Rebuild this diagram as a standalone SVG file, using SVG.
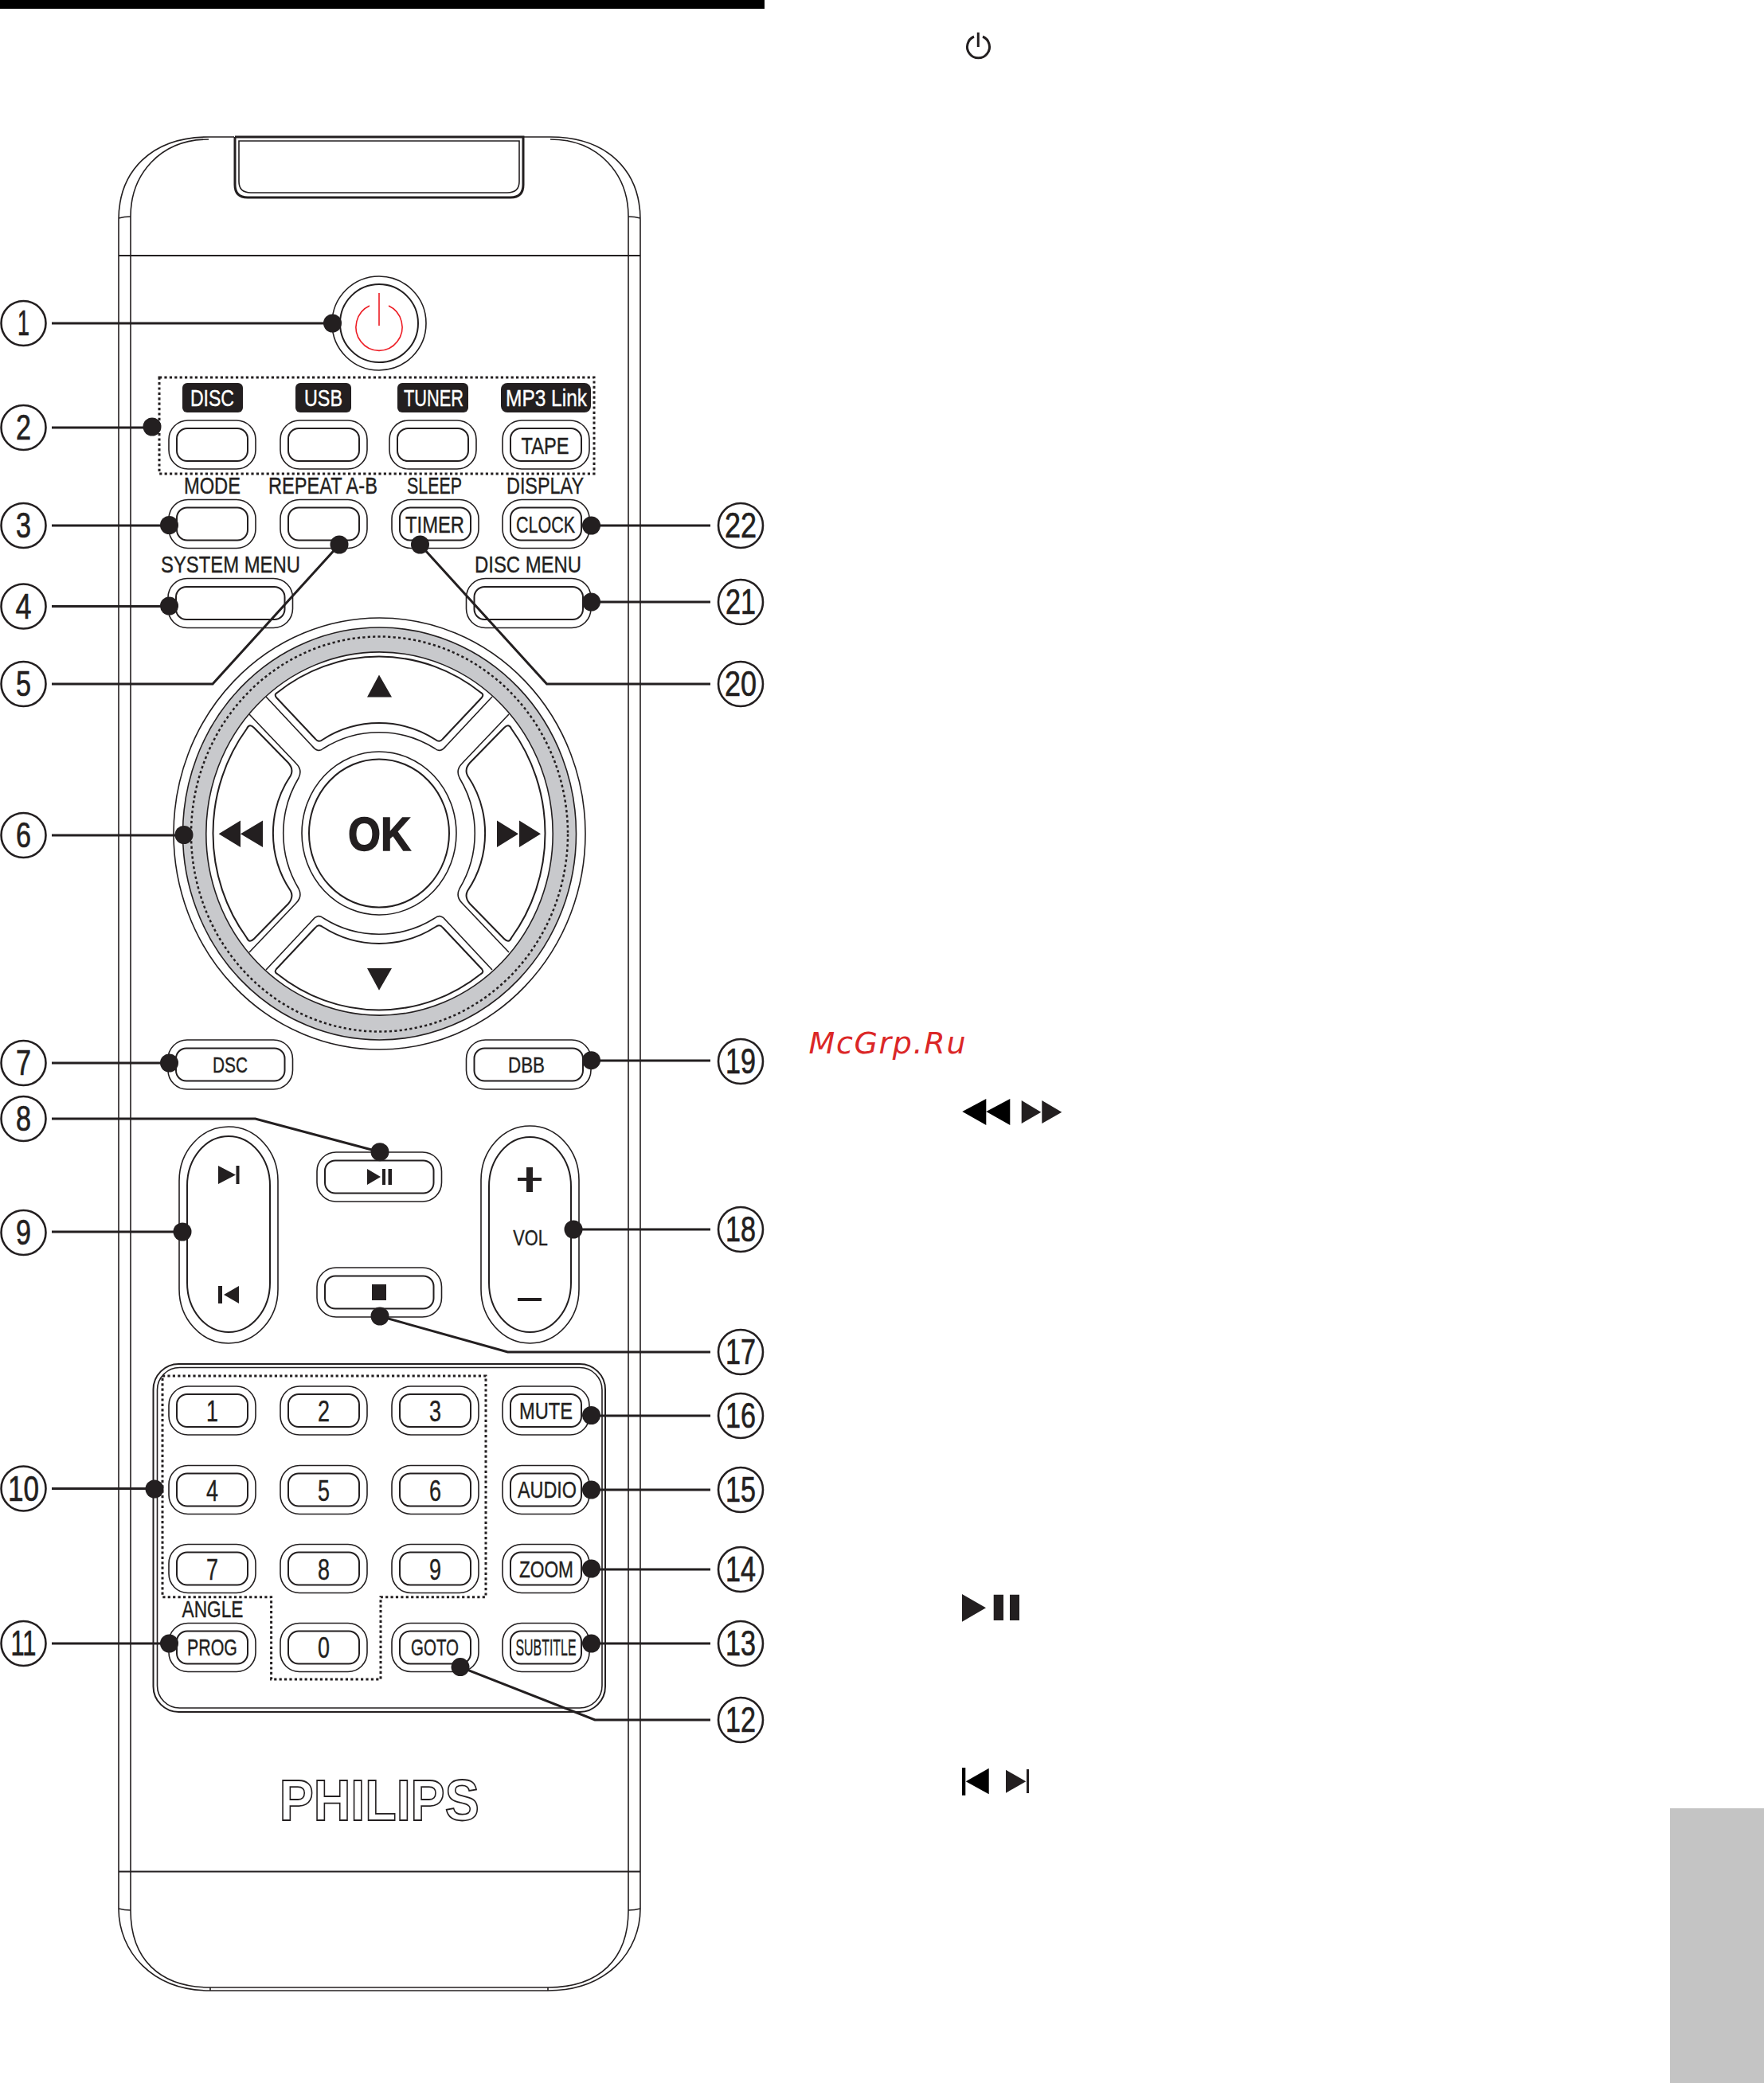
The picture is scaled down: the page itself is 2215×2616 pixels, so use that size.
<svg xmlns="http://www.w3.org/2000/svg" width="2215" height="2616" viewBox="0 0 2215 2616">
<style>
.l{fill:none;stroke:#231f20;stroke-width:2}
.lt{fill:none;stroke:#231f20;stroke-width:1.6}
.lk{fill:none;stroke:#231f20;stroke-width:3}
.dot{fill:none;stroke:#231f20;stroke-width:3;stroke-dasharray:3.2 3.2}
.f{fill:#231f20}
.k{fill:#000}
.t{font-family:"Liberation Sans",Arial,sans-serif;font-size:30px;fill:#231f20;stroke:#231f20;stroke-width:.4;text-anchor:middle}
.w{fill:#fff;stroke:#fff}
.n{font-family:"Liberation Sans",Arial,sans-serif;font-size:44px;fill:#231f20;stroke:#231f20;stroke-width:.7;text-anchor:middle}
.c{fill:#fff;stroke:#231f20;stroke-width:2.6}
.d{fill:#231f20}
.lead{fill:none;stroke:#231f20;stroke-width:3}
</style>
<defs>
<g id="btn"><rect class="lt" x="0" y="0" width="109" height="61" rx="24"/><rect class="l" x="10" y="10" width="89" height="41" rx="13"/></g>
<g id="wide"><rect class="lt" x="0" y="0" width="156.5" height="62" rx="24"/><rect class="l" x="10" y="10.500" width="136.500" height="41" rx="13"/></g>
<g id="dialUp">
<path class="lt" d="M334,875 L392,937 Q399,946 406,940 A131,131 0 0 1 546,940 Q553,946 560,937 L618,875"/>
<path class="l" d="M347,876 L396,928 Q400,933 405,929 A131,131 0 0 1 547,929 Q552,933 556,928 L605,876 Q608,872 604,870 A211,221.500 0 0 0 348,870 Q344,872 347,876 Z"/>
</g>
<g id="dialLeft">
<path class="lt" d="M313,897 L372,959 Q380,967 375,977 A135,135 0 0 0 375,1116 Q380,1126 372,1134 L313,1196"/>
<path class="l" d="M310,915 Q313,908 319,914 L362,958 Q369,966 365,974 A130,130 0 0 0 365,1119 Q369,1127 362,1135 L319,1179 Q313,1185 310,1178 A210,218 0 0 1 310,915 Z"/>
</g>
</defs>
<rect width="2215" height="2616" fill="#fff"/>
<rect id="page-bar" x="0" y="0" width="960" height="11" fill="#000"/>
<rect id="page-tab" x="2097" y="2271" width="118" height="345" fill="#c4c4c4"/>

<g id="remote-body">
<path class="lt" d="M149,2397 V276 C149,215 190,172 262,172 H294 M658,172 H691 C763,172 804,215 804,276 V2397 C804,2450 763,2500 688,2500 H264 C190,2500 149,2450 149,2397"/>
<path class="lt" d="M164,2399 V272 C164,220 200,175 262,175 M691,175 C753,175 789,220 789,272 V2399 C789,2460 753,2496 688,2496 H264 C200,2496 164,2460 164,2399"/>
<path class="lt" d="M149,274 Q156,272 164,272 M804,274 Q797,272 789,272 M149,2397 Q156,2399 164,2399 M804,2397 Q797,2399 789,2399 M264,2496 V2500 M688,2496 V2500"/>
<path class="l" d="M149,321 H804 M149,2350.500 H804"/>
<path class="lk" d="M295,172 V232 Q295,248 311,248 H641 Q657,248 657,232 V172 H295"/>
<path class="lt" d="M300,177 V228 Q300,242 315,242 H637 Q652,242 652,228 V177 Z"/>
</g>

<g id="power">
<circle class="lt" cx="476" cy="406" r="59"/>
<circle class="l" cx="476" cy="406" r="49"/>
<path fill="none" stroke="#ed1c24" stroke-width="1.6" d="M464,384 A29,29.500 0 1 0 488,384 M476,368 V409"/>
</g>

<g id="source-buttons">
<rect class="dot" x="200" y="474" width="546" height="121"/>
<rect class="f" x="229" y="481" width="76" height="37" rx="6"/>
<rect class="f" x="371" y="481" width="70" height="37" rx="6"/>
<rect class="f" x="499" y="481" width="89" height="37" rx="6"/>
<rect class="f" x="629" y="481" width="113" height="37" rx="8"/>
<text class="t w" x="266.500" y="510" textLength="55" lengthAdjust="spacingAndGlyphs">DISC</text>
<text class="t w" x="406" y="510" textLength="48" lengthAdjust="spacingAndGlyphs">USB</text>
<text class="t w" x="544.500" y="510" textLength="75" lengthAdjust="spacingAndGlyphs">TUNER</text>
<text class="t w" x="686" y="510" textLength="102" lengthAdjust="spacingAndGlyphs">MP3 Link</text>
<use href="#btn" x="212" y="528"/><use href="#btn" x="352" y="528"/><use href="#btn" x="489" y="528"/><use href="#btn" x="631" y="528"/>
<text class="t" x="684.500" y="570" textLength="60" lengthAdjust="spacingAndGlyphs">TAPE</text>
</g>

<g id="function-buttons">
<text class="t" x="266.500" y="620" textLength="71" lengthAdjust="spacingAndGlyphs">MODE</text>
<text class="t" x="405.500" y="620" textLength="137" lengthAdjust="spacingAndGlyphs">REPEAT A-B</text>
<text class="t" x="545.500" y="620" textLength="69" lengthAdjust="spacingAndGlyphs">SLEEP</text>
<text class="t" x="684.500" y="620" textLength="97" lengthAdjust="spacingAndGlyphs">DISPLAY</text>
<use href="#btn" x="212" y="627.500"/><use href="#btn" x="352" y="627.500"/><use href="#btn" x="492" y="627.500"/><use href="#btn" x="631" y="627.500"/>
<text class="t" x="546" y="669" textLength="74" lengthAdjust="spacingAndGlyphs">TIMER</text>
<text class="t" x="685" y="669" textLength="74" lengthAdjust="spacingAndGlyphs">CLOCK</text>
<text class="t" x="289.500" y="719" textLength="175" lengthAdjust="spacingAndGlyphs">SYSTEM MENU</text>
<text class="t" x="663" y="719" textLength="134" lengthAdjust="spacingAndGlyphs">DISC MENU</text>
<use href="#wide" x="211" y="726.500"/><use href="#wide" x="585.500" y="726.500"/>
</g>

<g id="dial">
<ellipse class="lt" cx="476.500" cy="1047" rx="258.500" ry="271"/>
<path d="M229.500,1047 a247,259 0 1 0 494,0 a247,259 0 1 0 -494,0 Z M258.800,1047 a217.700,228 0 1 1 435.400,0 a217.700,228 0 1 1 -435.400,0 Z" fill="#c8c9cc" fill-rule="evenodd" stroke="#231f20" stroke-width="1.600"/>
<ellipse class="dot" cx="476.500" cy="1047.500" rx="236.500" ry="248" style="stroke-width:2.500"/>
<use href="#dialUp"/>
<use href="#dialUp" transform="translate(0,2093) scale(1,-1)"/>
<use href="#dialLeft"/>
<use href="#dialLeft" transform="translate(952,0) scale(-1,1)"/>
<ellipse class="lt" cx="476" cy="1046.500" rx="97" ry="102.500"/>
<ellipse class="l" cx="476" cy="1046.500" rx="88" ry="93"/>
<text x="476.500" y="1067.500" font-family="Liberation Sans,Arial,sans-serif" font-weight="700" font-size="59px" fill="#231f20" stroke="#231f20" stroke-width="1.500" text-anchor="middle" textLength="79" lengthAdjust="spacingAndGlyphs">OK</text>
<path class="f" d="M476,847.600 L492,875.500 H461 Z M461,1216 H492 L476,1243.700 Z M274.600,1047.300 L302,1030.500 V1064 Z M302,1047.300 L330,1030.500 V1064 Z M624,1030.500 L651,1047.300 L624,1064 Z M652,1030.500 L679,1047.300 L652,1064 Z"/>
</g>

<g id="dsc"><use href="#wide" x="211" y="1306"/><text class="t" x="289" y="1346.500" style="font-size:28px" textLength="44" lengthAdjust="spacingAndGlyphs">DSC</text></g>
<g id="dbb"><use href="#wide" x="585.500" y="1306"/><text class="t" x="661" y="1346.500" style="font-size:28px" textLength="46" lengthAdjust="spacingAndGlyphs">DBB</text></g>

<g id="skip">
<rect class="lt" x="225" y="1415" width="124" height="272" rx="62" ry="68"/>
<rect class="l" x="235" y="1427" width="104" height="246" rx="52" ry="62"/>
<path class="f" d="M274,1464 L296,1475.500 L274,1487 Z M296.500,1464 H300.500 V1487 H296.500 Z M274,1615 H279 V1637 H274 Z M300,1615 V1637 L281,1626 Z"/>
</g>
<g id="play-pause">
<use href="#wide" x="398" y="1447"/>
<path class="f" d="M461,1468 L478,1478 L461,1488 Z M480,1468 H484 V1488 H480 Z M487.500,1468 H492 V1488 H487.500 Z"/>
</g>
<g id="stop">
<use href="#wide" x="398" y="1592"/>
<rect class="f" x="467" y="1613" width="18" height="20"/>
</g>
<g id="volume">
<rect class="lt" x="604" y="1414" width="123" height="273" rx="61.500" ry="68"/>
<rect class="l" x="614" y="1428" width="103" height="245" rx="51.500" ry="62"/>
<path class="f" d="M650,1479 H661 V1466 H669 V1479 H680 V1483 H669 V1497 H661 V1483 H650 Z M650,1630 H680 V1634 H650 Z"/>
<text class="t" x="666" y="1564" style="font-size:28px" textLength="43.500" lengthAdjust="spacingAndGlyphs">VOL</text>
</g>

<g id="keypad">
<rect class="l" x="192.500" y="1713" width="567.500" height="437" rx="32"/>
<rect class="lt" x="197.500" y="1717.500" width="558.500" height="427.500" rx="28"/>
<path class="dot" d="M204,1728 H610 V2005.700 H478 V2109 H340.600 V2005.700 H204 Z"/>
<use href="#btn" x="212" y="1741"/><use href="#btn" x="352" y="1741"/><use href="#btn" x="492" y="1741"/><use href="#btn" x="631" y="1741"/>
<use href="#btn" x="212" y="1840.500"/><use href="#btn" x="352" y="1840.500"/><use href="#btn" x="492" y="1840.500"/><use href="#btn" x="631" y="1840.500"/>
<use href="#btn" x="212" y="1939.500"/><use href="#btn" x="352" y="1939.500"/><use href="#btn" x="492" y="1939.500"/><use href="#btn" x="631" y="1939.500"/>
<use href="#btn" x="212" y="2038.500"/><use href="#btn" x="352" y="2038.500"/><use href="#btn" x="492" y="2038.500"/><use href="#btn" x="631" y="2038.500"/>
<text class="t" x="266.500" y="1785" style="font-size:36px" textLength="15" lengthAdjust="spacingAndGlyphs">1</text>
<text class="t" x="406.500" y="1785" style="font-size:36px" textLength="15" lengthAdjust="spacingAndGlyphs">2</text>
<text class="t" x="546.500" y="1785" style="font-size:36px" textLength="15" lengthAdjust="spacingAndGlyphs">3</text>
<text class="t" x="266.500" y="1885" style="font-size:36px" textLength="15" lengthAdjust="spacingAndGlyphs">4</text>
<text class="t" x="406.500" y="1885" style="font-size:36px" textLength="15" lengthAdjust="spacingAndGlyphs">5</text>
<text class="t" x="546.500" y="1885" style="font-size:36px" textLength="15" lengthAdjust="spacingAndGlyphs">6</text>
<text class="t" x="266.500" y="1983.500" style="font-size:36px" textLength="15" lengthAdjust="spacingAndGlyphs">7</text>
<text class="t" x="406.500" y="1983.500" style="font-size:36px" textLength="15" lengthAdjust="spacingAndGlyphs">8</text>
<text class="t" x="546.500" y="1983.500" style="font-size:36px" textLength="15" lengthAdjust="spacingAndGlyphs">9</text>
<text class="t" x="406.500" y="2082" style="font-size:36px" textLength="15" lengthAdjust="spacingAndGlyphs">0</text>
<text class="t" x="685.500" y="1782" textLength="67" lengthAdjust="spacingAndGlyphs">MUTE</text>
<text class="t" x="687" y="1881" textLength="74" lengthAdjust="spacingAndGlyphs">AUDIO</text>
<text class="t" x="686" y="1981" textLength="68" lengthAdjust="spacingAndGlyphs">ZOOM</text>
<text class="t" x="685.500" y="2079" textLength="76" lengthAdjust="spacingAndGlyphs">SUBTITLE</text>
<text class="t" x="266.500" y="2079" textLength="63" lengthAdjust="spacingAndGlyphs">PROG</text>
<text class="t" x="546" y="2079" textLength="60" lengthAdjust="spacingAndGlyphs">GOTO</text>
<text class="t" x="267" y="2030.500" textLength="77" lengthAdjust="spacingAndGlyphs">ANGLE</text>
</g>

<text id="philips" x="476.200" y="2286" font-family="Liberation Sans,Arial,sans-serif" font-weight="700" font-size="72px" fill="#fff" stroke="#231f20" stroke-width="1.800" text-anchor="middle" textLength="251" lengthAdjust="spacingAndGlyphs">PHILIPS</text>

<g id="connectors">
<path class="lead" d="M65,406 H417 M65,537 H191 M65,660 H212 M65,761.500 H212 M65,859 H267 L426,684 M65,1049 H231 M65,1335 H212 M65,1405 H320.600 L477,1446.700 M65,1547 H229 M65,1869.500 H194 M65,2064 H212"/>
<path class="lead" d="M892,660 H742 M892,756 H742 M892,859 H686.600 L527.500,684 M892,1332 H742 M892,1544 H720 M892,1698 H637.500 L477,1653 M892,1778 H742 M892,1871 H742 M892,1971 H742 M892,2064 H742 M892,2160 H747 L578,2093.600"/>
<g class="d">
<circle cx="417.500" cy="406" r="11.500"/><circle cx="191" cy="536" r="11.500"/><circle cx="212.500" cy="659.500" r="11.500"/><circle cx="212.500" cy="761" r="11.500"/><circle cx="426" cy="684" r="11.500"/><circle cx="231" cy="1048.500" r="11.500"/><circle cx="212.500" cy="1335" r="11.500"/><circle cx="477" cy="1446.700" r="11.500"/><circle cx="229" cy="1547" r="11.500"/><circle cx="194" cy="1870" r="11.500"/><circle cx="212.500" cy="2064" r="11.500"/><circle cx="578" cy="2093.600" r="11.500"/><circle cx="742.500" cy="2064" r="11.500"/><circle cx="742.500" cy="1970" r="11.500"/><circle cx="742.500" cy="1871" r="11.500"/><circle cx="742.500" cy="1777.500" r="11.500"/><circle cx="477" cy="1653" r="11.500"/><circle cx="720" cy="1544" r="11.500"/><circle cx="742.500" cy="1331.700" r="11.500"/><circle cx="527.500" cy="684" r="11.500"/><circle cx="742.500" cy="756" r="11.500"/><circle cx="742.500" cy="660" r="11.500"/>
</g>
</g>

<g id="callouts">
<g id="c1"><circle class="c" cx="29.500" cy="406" r="28"/><text class="n" x="29.500" y="421" textLength="15" lengthAdjust="spacingAndGlyphs">1</text></g>
<g id="c2"><circle class="c" cx="29.500" cy="537" r="28"/><text class="n" x="29.500" y="552" textLength="19" lengthAdjust="spacingAndGlyphs">2</text></g>
<g id="c3"><circle class="c" cx="29.500" cy="660" r="28"/><text class="n" x="29.500" y="675" textLength="19" lengthAdjust="spacingAndGlyphs">3</text></g>
<g id="c4"><circle class="c" cx="29.500" cy="761.500" r="28"/><text class="n" x="29.500" y="776.500" textLength="20" lengthAdjust="spacingAndGlyphs">4</text></g>
<g id="c5"><circle class="c" cx="29.500" cy="859" r="28"/><text class="n" x="29.500" y="874" textLength="19" lengthAdjust="spacingAndGlyphs">5</text></g>
<g id="c6"><circle class="c" cx="29.500" cy="1049" r="28"/><text class="n" x="29.500" y="1064" textLength="19" lengthAdjust="spacingAndGlyphs">6</text></g>
<g id="c7"><circle class="c" cx="29.500" cy="1335" r="28"/><text class="n" x="29.500" y="1350" textLength="19" lengthAdjust="spacingAndGlyphs">7</text></g>
<g id="c8"><circle class="c" cx="29.500" cy="1405" r="28"/><text class="n" x="29.500" y="1420" textLength="19" lengthAdjust="spacingAndGlyphs">8</text></g>
<g id="c9"><circle class="c" cx="29.500" cy="1548" r="28"/><text class="n" x="29.500" y="1563" textLength="19" lengthAdjust="spacingAndGlyphs">9</text></g>
<g id="c10"><circle class="c" cx="29.500" cy="1869.500" r="28"/><text class="n" x="29.500" y="1884.500" textLength="39" lengthAdjust="spacingAndGlyphs">10</text></g>
<g id="c11"><circle class="c" cx="29.500" cy="2064" r="28"/><text class="n" x="29.500" y="2079" textLength="32" lengthAdjust="spacingAndGlyphs">11</text></g>
<g id="c12"><circle class="c" cx="930" cy="2160" r="28"/><text class="n" x="930" y="2175" textLength="38" lengthAdjust="spacingAndGlyphs">12</text></g>
<g id="c13"><circle class="c" cx="930" cy="2064" r="28"/><text class="n" x="930" y="2079" textLength="38" lengthAdjust="spacingAndGlyphs">13</text></g>
<g id="c14"><circle class="c" cx="930" cy="1971" r="28"/><text class="n" x="930" y="1986" textLength="38" lengthAdjust="spacingAndGlyphs">14</text></g>
<g id="c15"><circle class="c" cx="930" cy="1871" r="28"/><text class="n" x="930" y="1886" textLength="38" lengthAdjust="spacingAndGlyphs">15</text></g>
<g id="c16"><circle class="c" cx="930" cy="1778" r="28"/><text class="n" x="930" y="1793" textLength="38" lengthAdjust="spacingAndGlyphs">16</text></g>
<g id="c17"><circle class="c" cx="930" cy="1698" r="28"/><text class="n" x="930" y="1713" textLength="38" lengthAdjust="spacingAndGlyphs">17</text></g>
<g id="c18"><circle class="c" cx="930" cy="1544" r="28"/><text class="n" x="930" y="1559" textLength="38" lengthAdjust="spacingAndGlyphs">18</text></g>
<g id="c19"><circle class="c" cx="930" cy="1333" r="28"/><text class="n" x="930" y="1348" textLength="38" lengthAdjust="spacingAndGlyphs">19</text></g>
<g id="c20"><circle class="c" cx="930" cy="859" r="28"/><text class="n" x="930" y="874" textLength="40" lengthAdjust="spacingAndGlyphs">20</text></g>
<g id="c21"><circle class="c" cx="930" cy="756" r="28"/><text class="n" x="930" y="771" textLength="38" lengthAdjust="spacingAndGlyphs">21</text></g>
<g id="c22"><circle class="c" cx="930" cy="660" r="28"/><text class="n" x="930" y="675" textLength="40" lengthAdjust="spacingAndGlyphs">22</text></g>
</g>

<g id="right-page">
<path fill="none" stroke="#231f20" stroke-width="3" d="M1223,46 A14,14 0 1 0 1234,46"/>
<rect class="f" x="1226.800" y="40.700" width="3" height="18.300"/>
<text x="1114" y="1322.700" font-family="DejaVu Sans,sans-serif" font-style="italic" font-size="38px" fill="#db2727" text-anchor="middle" textLength="197" lengthAdjust="spacing">McGrp.Ru</text>
<path class="k" d="M1208.300,1396 L1238.300,1380 V1413 Z M1238.300,1396 L1268.300,1380 V1413 Z"/>
<path class="f" d="M1282.700,1382 L1307.300,1396.700 L1282.700,1411 Z M1308.300,1382 L1333.300,1396.700 L1308.300,1411 Z"/>
<path class="f" d="M1208,2002 L1238,2019.300 L1208,2036.700 Z M1247.700,2002.700 H1260 V2035 H1247.700 Z M1268,2002.700 H1280 V2035 H1268 Z"/>
<path class="k" d="M1208,2220 H1212.300 V2254.700 H1208 Z M1212.700,2237.300 L1241.700,2220.700 V2253.300 Z"/>
<path class="f" d="M1263,2222.700 L1288.300,2237.300 L1263,2251.700 Z M1289,2222 H1292 V2252 H1289 Z"/>
</g>
</svg>
